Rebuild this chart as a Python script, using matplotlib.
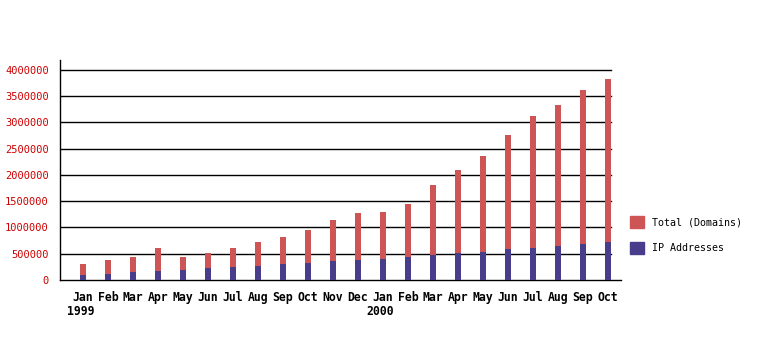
import matplotlib
matplotlib.use("Agg")
import matplotlib.pyplot as plt
from matplotlib.patches import Patch
from matplotlib.transforms import blended_transform_factory

months = ["Jan", "Feb", "Mar", "Apr", "May", "Jun", "Jul", "Aug", "Sep", "Oct", "Nov", "Dec",
          "Jan", "Feb", "Mar", "Apr", "May", "Jun", "Jul", "Aug", "Sep", "Oct"]
years = {0: "1999", 12: "2000"}
total_domains = [303000, 379000, 436000, 607000, 436000, 512000, 607000, 720000, 815000, 948000,
                 1137000, 1270000, 1289000, 1441000, 1801000, 2104000, 2370000, 2768000,
                 3128000, 3336000, 3621000, 3829000]
ip_addresses = [95000, 114000, 152000, 171000, 190000, 227000, 246000, 265000, 303000, 322000,
                360000, 379000, 398000, 436000, 474000, 512000, 531000, 588000,
                607000, 645000, 682000, 720000]
yticks = [0, 500000, 1000000, 1500000, 2000000, 2500000, 3000000, 3500000, 4000000]

red = "#CD5555"
blue = "#483D8B"
mono = "DejaVu Sans Mono"

fig = plt.figure(figsize=(7.8, 3.5), dpi=100)
ax = fig.add_axes([60/780, 70/350, 561/780, 220/350])

x = list(range(len(months)))
ax.bar(x, total_domains, width=0.24, color=red, zorder=3)
ax.bar(x, ip_addresses, width=0.24, color=blue, zorder=4)

ax.set_xlim(-0.92, 21.52)
ax.set_ylim(0, 4190000)
for v in yticks[1:]:
    ax.axhline(v, xmin=0, xmax=0.982, color="black", lw=1, zorder=1)

ax.set_yticks(yticks)
ax.set_yticklabels([str(v) for v in yticks], family=mono, fontsize=7.5, color="#CC0000")
ax.set_xticks(x)
ax.set_xticklabels(months, family=mono, fontsize=8.3, fontweight="bold")
ax.tick_params(axis="both", length=0)
ax.tick_params(axis="y", pad=8)
ax.tick_params(axis="x", pad=8)

for s in ["top", "right"]:
    ax.spines[s].set_visible(False)
ax.spines["left"].set_linewidth(1)
ax.spines["bottom"].set_linewidth(1)

trans = blended_transform_factory(ax.transData, ax.transAxes)
for i, yr in years.items():
    ax.text(i - 0.1, -0.145, yr, transform=trans, ha="center", va="center",
            family=mono, fontsize=8.3, fontweight="bold")

handles = [Patch(color=red, label="Total (Domains)"), Patch(color=blue, label="IP Addresses")]
fig.legend(handles=handles, loc="upper left", bbox_to_anchor=(621/780, 1 - 207/350),
           frameon=False, prop={"family": mono, "size": 7.2},
           handlelength=1.4, handleheight=1.4, handletextpad=0.8, labelspacing=1.45)

fig.savefig("out.png", dpi=100)
